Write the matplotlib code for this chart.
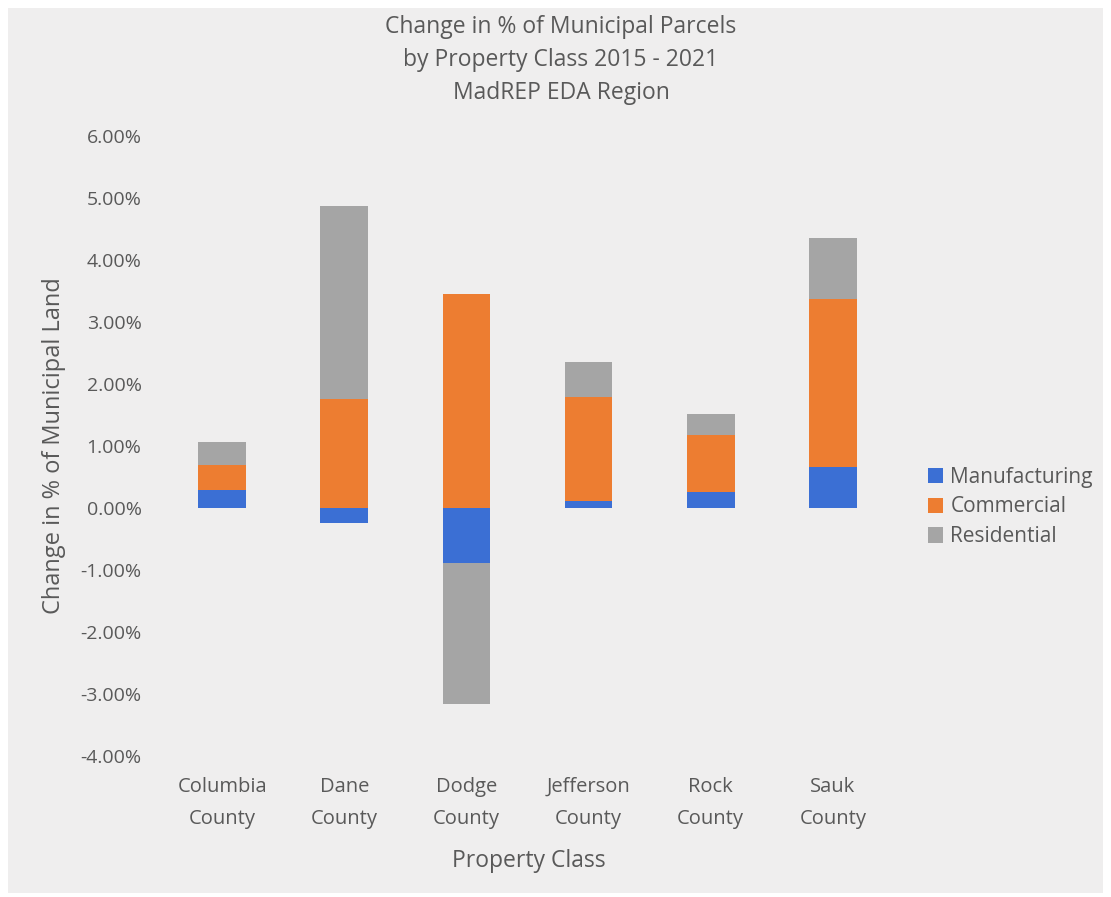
import matplotlib
matplotlib.use("Agg")
import matplotlib.pyplot as plt
from matplotlib.patches import Rectangle
from matplotlib.ticker import FuncFormatter
import numpy as np

counties = ["Columbia\nCounty", "Dane\nCounty", "Dodge\nCounty",
            "Jefferson\nCounty", "Rock\nCounty", "Sauk\nCounty"]
manufacturing = [0.29, -0.24, -0.89, 0.11, 0.26, 0.66]
commercial = [0.40, 1.76, 3.45, 1.68, 0.92, 2.71]
residential = [0.37, 3.11, -2.27, 0.57, 0.34, 0.98]

series_names = ["Manufacturing", "Commercial", "Residential"]
title_lines = ["Change in % of Municipal Parcels",
               "by Property Class 2015 - 2021",
               "MadREP EDA Region"]
colors = ["#3b6fd4", "#ed7d31", "#a5a5a5"]
bg = "#efeeee"
text_color = "#595959"

plt.rcParams["font.family"] = ["Open Sans", "DejaVu Sans"]

W, H = 1111, 897
fig = plt.figure(figsize=(W / 100, H / 100), dpi=100, facecolor="white")
fig.patches.append(Rectangle((8 / W, 4 / H), 1095 / W, 885 / H,
                             transform=fig.transFigure, facecolor=bg,
                             edgecolor="none", zorder=-10))
ax = fig.add_axes([161 / W, 1 - 756 / H, 733 / W, 620 / H])
ax.set_facecolor("none")

x = np.arange(len(counties))
width = 0.39

# stack positives upward and negatives downward from zero
pos_base = np.zeros(len(x))
neg_base = np.zeros(len(x))
for name, vals, c in zip(series_names, [manufacturing, commercial, residential], colors):
    vals = np.array(vals)
    base = np.where(vals >= 0, pos_base, neg_base)
    ax.bar(x, vals, width, bottom=base, color=c, label=name, zorder=2)
    pos_base = pos_base + np.where(vals >= 0, vals, 0)
    neg_base = neg_base + np.where(vals < 0, vals, 0)

ax.set_xlim(-0.5, len(x) - 0.5)
ax.set_ylim(-4, 6)
ax.set_yticks(np.arange(-4, 7, 1))
ax.yaxis.set_major_formatter(FuncFormatter(lambda v, p: f"{v:.2f}%"))
ax.set_xticks(x)
ax.set_xticklabels(counties, linespacing=1.8)
for s in ax.spines.values():
    s.set_visible(False)
ax.tick_params(axis="both", length=0, colors=text_color)
ax.tick_params(axis="y", pad=14, labelsize=14)
ax.tick_params(axis="x", pad=15, labelsize=14.5)

ax.set_ylabel("Change in % of Municipal Land", fontsize=17, color=text_color)
ax.yaxis.set_label_coords((66 - 161) / 733, 0.5)
ax.set_xlabel("Property Class", fontsize=16.5, color=text_color)
ax.xaxis.set_label_coords((529 - 161) / 733, -(849 - 756) / 620)

for line, base_px in zip(title_lines, [33, 66, 99]):
    fig.text(561 / W, 1 - base_px / H, line, ha="center", va="baseline",
             fontsize=16.5, color=text_color)

handles, labels = ax.get_legend_handles_labels()
leg = fig.legend(handles, labels, loc="center left", bbox_to_anchor=(0.818, 1 - 507 / H),
                 frameon=False, fontsize=15, handlelength=0.75, handleheight=0.75,
                 handletextpad=0.35, labelspacing=0.42, labelcolor=text_color)

fig.savefig("out.png", dpi=100, facecolor="white")
